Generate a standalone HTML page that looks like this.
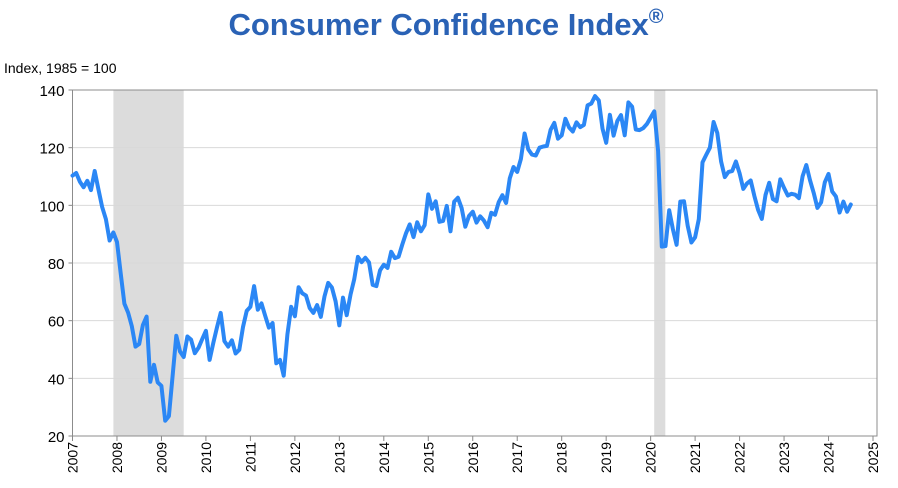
<!DOCTYPE html>
<html><head><meta charset="utf-8"><style>
body{margin:0;background:#fff;font-family:"Liberation Sans",Arial,sans-serif;}
svg text{font-family:"Liberation Sans",Arial,sans-serif;}
</style></head><body>
<svg id="chart" width="898" height="483" viewBox="0 0 898 483" xmlns="http://www.w3.org/2000/svg">
<rect width="898" height="483" fill="#fff"/>
<text x="446" y="35" text-anchor="middle" font-size="31" font-weight="bold" fill="#2a62b5">Consumer Confidence Index<tspan font-size="20" dy="-12">®</tspan></text>
<text x="4" y="73" font-size="14" fill="#000">Index, 1985 = 100</text>
<g id="rec"></g><g id="grid"></g><g id="axes"></g><g id="series"></g>
</svg>
<script>
const yearsStart = 2007;
const values = [
110.3,111.2,108.2,106.3,108.5,105.3,111.9,105.6,99.5,95.2,87.8,90.6,
87.3,76.4,65.9,62.8,58.1,51.0,51.9,58.5,61.4,38.8,44.7,38.6,
37.4,25.3,26.9,40.8,54.8,49.3,47.4,54.5,53.4,48.7,50.6,53.6,
56.5,46.4,52.3,57.7,62.7,52.9,51.0,53.2,48.6,49.9,57.8,63.4,
64.8,72.0,63.8,66.0,61.7,57.6,59.2,45.2,46.4,40.9,55.2,64.8,
61.5,71.6,69.5,68.7,64.4,62.7,65.4,61.3,68.4,73.1,71.5,66.7,
58.4,68.0,61.9,69.0,74.3,82.1,80.3,81.8,80.2,72.4,72.0,77.5,
79.4,78.3,83.9,81.7,82.2,86.4,90.3,93.4,89.0,94.1,91.0,93.1,
103.8,98.8,101.4,94.3,94.6,99.8,91.0,101.3,102.6,99.1,92.6,96.3,
97.8,94.0,96.2,94.7,92.4,97.4,96.7,101.1,103.5,100.8,109.4,113.3,
111.6,116.1,124.9,119.4,117.6,117.3,120.0,120.4,120.6,126.2,128.6,123.1,
124.3,130.0,127.0,125.6,128.8,127.1,127.9,134.7,135.3,137.9,136.4,126.6,
121.7,131.4,124.2,129.2,131.3,124.3,135.7,134.2,126.3,126.1,126.8,128.2,
130.4,132.6,118.8,85.7,85.9,98.3,91.7,86.3,101.3,101.4,92.9,87.1,
88.9,95.2,114.9,117.5,120.0,128.9,125.1,115.2,109.8,111.6,111.9,115.2,
111.1,105.7,107.6,108.6,103.2,98.4,95.3,103.6,107.8,102.2,101.4,109.0,
106.0,103.4,104.0,103.7,102.5,110.1,114.0,108.7,104.3,99.1,101.0,108.0,
110.9,104.8,103.1,97.5,101.3,97.8,100.3];
const yTicks = [20,40,60,80,100,120,140];
const xTickYears = [2007,2008,2009,2010,2011,2012,2013,2014,2015,2016,2017,2018,2019,2020,2021,2022,2023,2024,2025];
const recessionStarts = [2007.92, 2020.08];
const recessionEnds = [2009.5, 2020.33];

const NS="http://www.w3.org/2000/svg";
const L=72.5,R=877,T=90,B=436;
const x=t=>L+(t-2007)*(873-72.5)/18;
const y=v=>B-(v-20)*(B-T)/120;
function mk(tag,attrs,parent){const e=document.createElementNS(NS,tag);for(const k in attrs)e.setAttribute(k,attrs[k]);parent.appendChild(e);return e;}
const rec=document.getElementById('rec'),grid=document.getElementById('grid'),axes=document.getElementById('axes'),series=document.getElementById('series');
recessionStarts.forEach((s,i)=>{
  const r=mk('rect',{x:x(s),y:T,width:x(recessionEnds[i])-x(s),height:B-T,fill:'#dcdcdc'},rec);
  
  
});
yTicks.forEach(v=>{
  if(v>20&&v<140){const g=mk('line',{x1:L,x2:R,y1:y(v),y2:y(v),stroke:'#d9d9d9','stroke-width':1},grid);
  
  }
  const tk=mk('line',{x1:L-4,x2:L,y1:y(v),y2:y(v),stroke:'#888'},axes);
  
  
  const t=mk('text',{x:L-8,y:y(v)+6,'text-anchor':'end','font-size':15,fill:'#000'},axes);
  t.textContent=v;
  
  
});
const frame=mk('rect',{x:L,y:T,width:R-L,height:B-T,fill:'none',stroke:'#8c8c8c','stroke-width':1},axes);


xTickYears.forEach(yr=>{
  const xx=x(yr);
  const tk=mk('line',{x1:xx,x2:xx,y1:B,y2:B+5,stroke:'#888'},axes);
  
  
  const t=mk('text',{x:0,y:0,'text-anchor':'end','font-size':14,fill:'#000',transform:`translate(${xx+5},${B+6}) rotate(-90)`},axes);
  t.textContent=yr;
  
  
});
const pts=values.map((v,i)=>x(yearsStart+i/12).toFixed(1)+','+y(v).toFixed(1)).join(' ');
const line=mk('polyline',{points:pts,fill:'none',stroke:'#2b87f5','stroke-width':4,'stroke-linejoin':'round','stroke-linecap':'round'},series);


</script>
</body></html>
